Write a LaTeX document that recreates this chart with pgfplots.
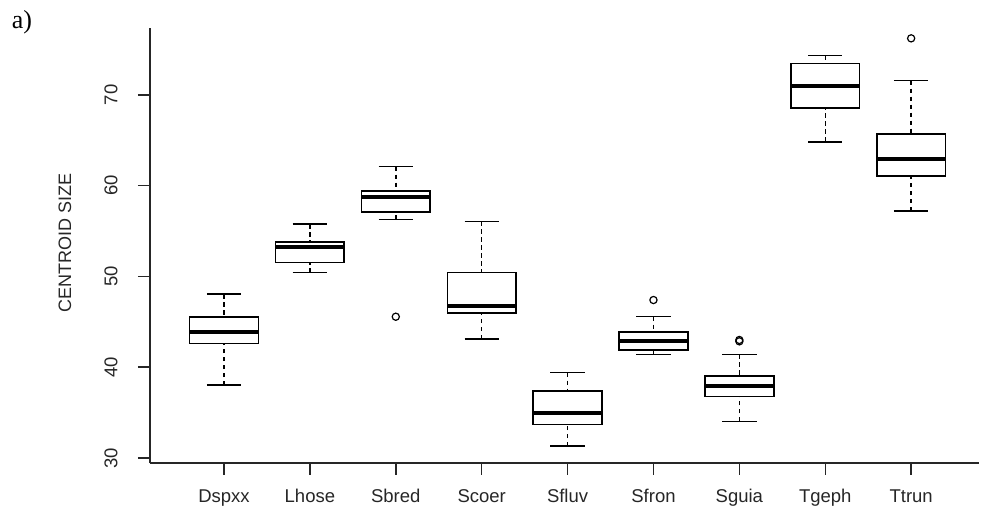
\documentclass[border=0pt]{standalone}
\usepackage{fontspec}
\setmainfont{Liberation Sans}
\newfontfamily\seriffont{Liberation Serif}
\usepackage{pgfplots}
\pgfplotsset{compat=1.18}
\usepgfplotslibrary{statistics}
\pgfplotsset{
  rbox/.style={black, solid, line width=1.5pt, mark=o, mark size=3.6pt,
    mark options={solid, line width=1.2pt, fill=none},
    boxplot/draw direction=y, boxplot/box extend=0.8, boxplot/whisker extend=0.4,
    boxplot/draw/box/.code={%
      \draw[black, solid, line width=1.6pt]
        (boxplot box cs:\pgfplotsboxplotvalue{lower quartile},0) rectangle
        (boxplot box cs:\pgfplotsboxplotvalue{upper quartile},1);
    },
    boxplot/draw/median/.code={%
      \draw[black, solid, line width=4pt]
        (boxplot box cs:\pgfplotsboxplotvalue{median},0) --
        (boxplot box cs:\pgfplotsboxplotvalue{median},1);
    },
    boxplot/draw/lower whisker/.code={%
      \draw[black, dash pattern=on 4.5pt off 3.5pt, line width=1.5pt]
        (boxplot box cs:\pgfplotsboxplotvalue{lower whisker},0.5) --
        (boxplot box cs:\pgfplotsboxplotvalue{lower quartile},0.5);
      \draw[black, solid, line width=1.5pt]
        (boxplot whisker cs:\pgfplotsboxplotvalue{lower whisker},0) --
        (boxplot whisker cs:\pgfplotsboxplotvalue{lower whisker},1);
    },
    boxplot/draw/upper whisker/.code={%
      \draw[black, dash pattern=on 4.5pt off 3.5pt, line width=1.5pt]
        (boxplot box cs:\pgfplotsboxplotvalue{upper whisker},0.5) --
        (boxplot box cs:\pgfplotsboxplotvalue{upper quartile},0.5);
      \draw[black, solid, line width=1.5pt]
        (boxplot whisker cs:\pgfplotsboxplotvalue{upper whisker},0) --
        (boxplot whisker cs:\pgfplotsboxplotvalue{upper whisker},1);
    }},
}
\begin{document}
\begin{tikzpicture}
\useasboundingbox (-150pt,-48pt) rectangle (832pt,463pt);
\begin{axis}[
  at={(0pt,0pt)}, anchor=south west,
  scale only axis, width=829pt, height=435pt,
  xmin=0.1385, xmax=9.79, ymin=29.45, ymax=77.36,
  axis x line*=bottom, axis y line*=left,
  axis line style={line width=1.5pt, black!85},
  tick align=outside, major tick length=12pt,
  tick style={line width=1.5pt, black!85},
  xtick={1,...,9},
  xticklabels={Dspxx,Lhose,Sbred,Scoer,Sfluv,Sfron,Sguia,Tgeph,Ttrun},
  ytick={30,40,50,60,70},
  /pgf/number format/assume math mode=true,
  tick label style={font=\fontsize{18.5}{20}\selectfont, text=black!85},
  yticklabel style={rotate=90, anchor=south},
  yticklabel shift=17pt,
  xticklabel shift=11pt,
  ylabel={CENTROID SIZE},
  ylabel style={at={(axis description cs:-0.1025,0.506)}, anchor=center, font=\fontsize{18}{20}\selectfont, text=black!85},
  clip=false,
]
% Dspxx
\addplot+[rbox, boxplot prepared={draw position=1, lower whisker=38.04, lower quartile=42.63, median=43.91, upper quartile=45.56, upper whisker=48.06}] coordinates {};
% Lhose
\addplot+[rbox, boxplot prepared={draw position=2, lower whisker=50.41, lower quartile=51.55, median=53.2, upper quartile=53.79, upper whisker=55.77}] coordinates {};
% Sbred
\addplot+[rbox, boxplot prepared={draw position=3, lower whisker=56.29, lower quartile=57.09, median=58.78, upper quartile=59.41, upper whisker=62.08}] table[row sep=\\, y index=0] {v\\ 45.56\\};
% Scoer
\addplot+[rbox, boxplot prepared={draw position=4, lower whisker=43.1, lower quartile=45.94, median=46.77, upper quartile=50.41, upper whisker=56.07}] coordinates {};
% Sfluv
\addplot+[rbox, boxplot prepared={draw position=5, lower whisker=31.32, lower quartile=33.67, median=34.92, upper quartile=37.41, upper whisker=39.39}] coordinates {};
% Sfron
\addplot+[rbox, boxplot prepared={draw position=6, lower whisker=41.42, lower quartile=41.89, median=42.92, upper quartile=43.88, upper whisker=45.56}] table[row sep=\\, y index=0] {v\\ 47.4\\};
% Sguia
\addplot+[rbox, boxplot prepared={draw position=7, lower whisker=34.04, lower quartile=36.79, median=37.93, upper quartile=39.03, upper whisker=41.42}] table[row sep=\\, y index=0] {v\\ 42.85\\ 43.0\\};
% Tgeph
\addplot+[rbox, boxplot prepared={draw position=8, lower whisker=64.83, lower quartile=68.55, median=70.94, upper quartile=73.47, upper whisker=74.31}] coordinates {};
% Ttrun
\addplot+[rbox, boxplot prepared={draw position=9, lower whisker=57.2, lower quartile=61.09, median=62.96, upper quartile=65.68, upper whisker=71.55}] table[row sep=\\, y index=0] {v\\ 76.22\\};
\end{axis}
\node[font=\seriffont\fontsize{26}{26}\selectfont] at (-128pt,441pt) {a)};
\end{tikzpicture}
\end{document}
